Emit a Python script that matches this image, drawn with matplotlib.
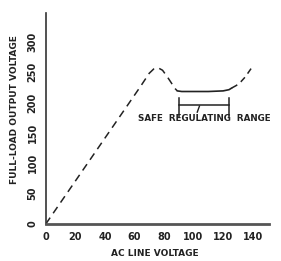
import matplotlib.pyplot as plt

# values
rise_x = [0, 64, 70, 73, 76, 79, 82, 85, 87, 89]
rise_y = [0, 226, 248, 255, 257, 253, 243, 232, 224, 219]
flat_x = [89, 92, 100, 110, 120, 124, 126]
flat_y = [219, 218, 218, 218, 219, 221, 224]
tail_x = [126, 129, 132, 135, 137, 139]
tail_y = [224, 228, 234, 242, 249, 256]
range_lo = 90
range_hi = 124
range_y = 196

xticks = [0, 20, 40, 60, 80, 100, 120, 140]
yticks = [0, 50, 100, 150, 200, 250, 300]

plt.rcParams['font.family'] = ['DejaVu Sans']

fig = plt.figure(figsize=(2.81, 2.61), dpi=100)
ax = fig.add_axes([0.163, 0.142, 0.794, 0.81])

ink = "#222222"
ax.plot(rise_x, rise_y, color=ink, lw=1.1, dashes=(5, 3.5))
ax.plot(flat_x, flat_y, color=ink, lw=1.2, solid_capstyle="round")
ax.plot(tail_x, tail_y, color=ink, lw=1.1, dashes=(4, 3))

# bracket for the range
ax.plot([range_lo, range_hi], [range_y, range_y], color=ink, lw=1.1)
ax.plot([range_lo, range_lo], [range_y - 20, range_y + 12], color=ink, lw=1.1)
ax.plot([range_hi, range_hi], [range_y - 20, range_y + 12], color=ink, lw=1.1)
ax.plot([102.5, 104], [range_y - 12, range_y - 2], color=ink, lw=1.0)
ax.text(107, 174, "SAFE  REGULATING  RANGE", fontsize=6.3, ha="center",
        va="center", color=ink, fontweight="bold")

ax.set_xlim(0, 151)
ax.set_ylim(0, 348)
ax.set_xticks(xticks)
ax.set_yticks(yticks)
ax.set_xticklabels([str(v) for v in xticks], fontweight="bold")
ax.set_yticklabels([str(v) for v in yticks], rotation=90, va="center",
                   fontweight="bold")
ax.tick_params(length=0, labelsize=7, colors=ink, pad=6)
for s in ["top", "right"]:
    ax.spines[s].set_visible(False)
ax.spines["left"].set_linewidth(1.2)
ax.spines["left"].set_color("#333333")
ax.spines["bottom"].set_linewidth(2)
ax.spines["bottom"].set_color("#555555")

ax.set_xlabel("AC LINE VOLTAGE", fontsize=6.5, color=ink, fontweight="bold")
ax.set_ylabel("FULL-LOAD OUTPUT VOLTAGE", fontsize=6.5, color=ink,
              fontweight="bold")
ax.xaxis.set_label_coords(0.49, -0.12)
ax.yaxis.set_label_coords(-0.12, 0.54)

fig.savefig("out.png", dpi=100)
